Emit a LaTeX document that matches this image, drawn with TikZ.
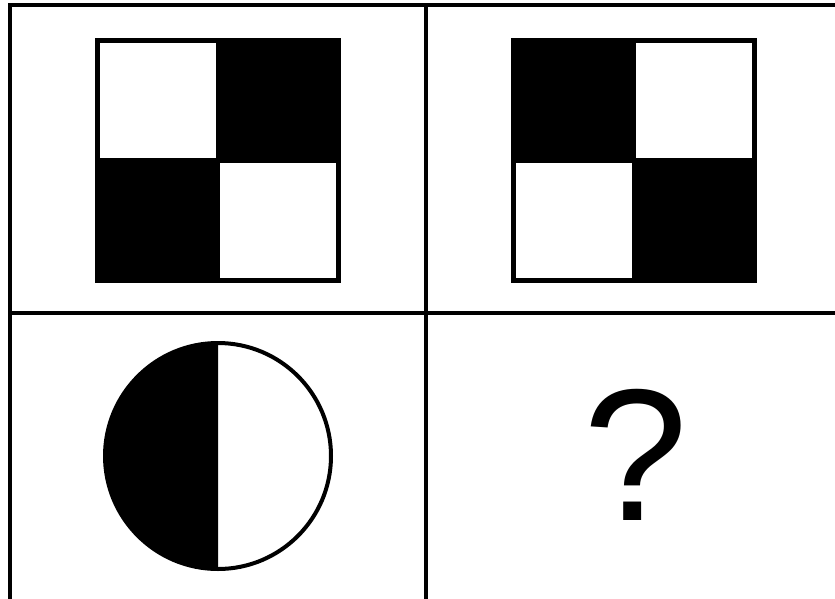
\documentclass[tikz,border=0pt]{standalone}
\usepackage{fontspec}
\setmainfont{Liberation Sans}
\usetikzlibrary{positioning}

\tikzset{
  frameline/.style={line width=4pt},
  ringline/.style={line width=4pt},
}

\begin{document}
\begin{tikzpicture}[x=1pt, y=-1pt]
  \useasboundingbox (0,0) rectangle (835,598);
  \clip (0,0) rectangle (835,598);
  % panels
  \coordinate (tl) at (9.5,5);
  \coordinate (br) at (850,615);
  \coordinate (midtop) at (426,5);
  \coordinate (midbot) at (426,615);
  \coordinate (midleft) at (9.5,313);
  \coordinate (midright) at (850,313);
  \draw[frameline] (tl) rectangle (br);
  \draw[frameline] (midtop) -- (midbot);
  \draw[frameline] (midleft) -- (midright);
  % the two checker boards
  \foreach \cx/\sgn in {217.75/1, 633.75/-1}{
    \fill (\cx-122.75,37.5) rectangle (\cx+122.75,283);
    \fill[white] (\cx-\sgn*118.25,42.5) rectangle (\cx-\sgn*2.25,158);
    \fill[white] (\cx+\sgn*2.25,162.5) rectangle (\cx+\sgn*118.25,278);
  }
  % half filled circle
  \coordinate (c) at (218,456);
  \fill (c) ++(90:113) arc (90:270:113) -- cycle;
  \draw[ringline] (c) circle (113);
  \node[font=\fontsize{188}{188}\selectfont, inner sep=0, anchor=base] (qmark) at (636,520) {?};
\end{tikzpicture}
\end{document}
